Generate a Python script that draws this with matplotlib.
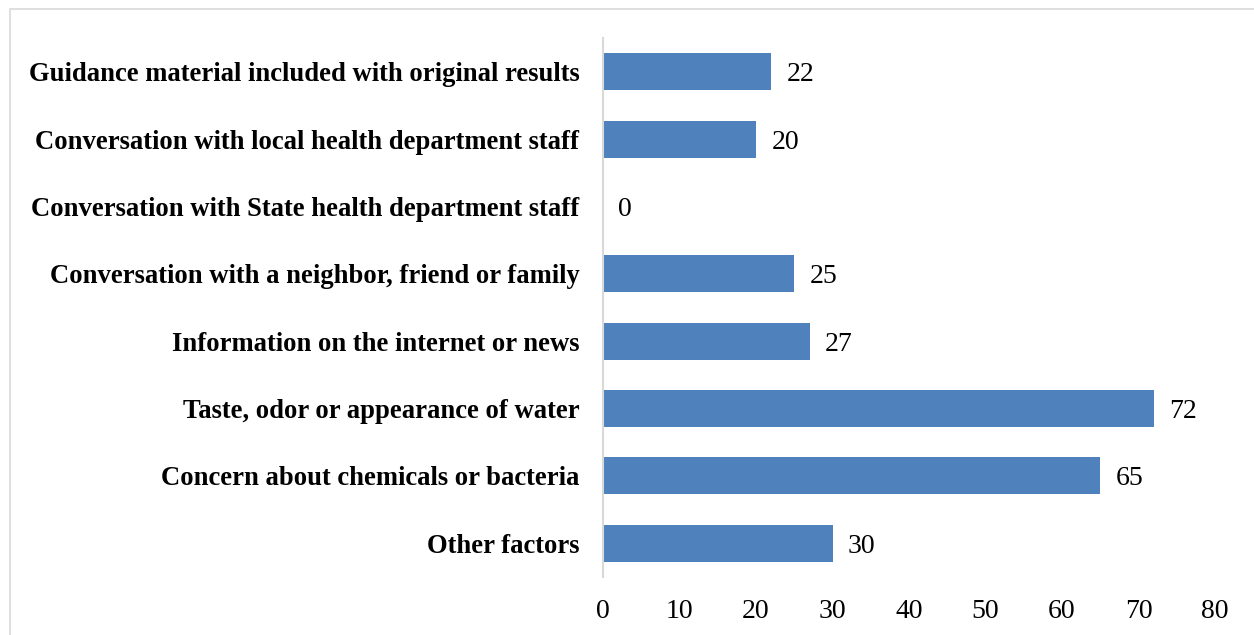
import matplotlib.pyplot as plt
from matplotlib.patches import Rectangle

categories = [
    "Guidance material included with original results",
    "Conversation with local health department staff",
    "Conversation with State health department staff",
    "Conversation with a neighbor, friend or family",
    "Information on the internet or news",
    "Taste, odor or appearance of water",
    "Concern about chemicals or bacteria",
    "Other factors",
]
counts = [22, 20, 0, 25, 27, 72, 65, 30]
x_ticks = [0, 10, 20, 30, 40, 50, 60, 70, 80]

BAR_COLOR = "#4F81BD"
GRID_GREY = "#D9D9D9"

plt.rcParams["font.family"] = ["Liberation Serif", "DejaVu Serif"]

fig = plt.figure(figsize=(12.54, 6.35), dpi=100)
# thin frame around the chart area
fig.patches.append(Rectangle((10 / 1254, -0.01), 1.02, 1 - 9 / 635 + 0.01,
                             transform=fig.transFigure, fill=False,
                             edgecolor=GRID_GREY, linewidth=1.2))

ax = fig.add_axes([603 / 1254, 1 - 577 / 635, (1215 - 603) / 1254, (577 - 38) / 635])

pos = list(range(len(categories)))[::-1]
ax.barh(pos, counts, height=0.55, color=BAR_COLOR)
for p, v in zip(pos, counts):
    ax.text(v + 2.0, p, str(v), va="center_baseline", ha="left", fontsize=20)

ax.set_xlim(0, 80)
ax.set_ylim(-0.5, len(categories) - 0.5)
ax.set_xticks(x_ticks)
ax.set_xticklabels([str(t) for t in x_ticks], fontsize=20)
ax.set_yticks(pos)
ax.set_yticklabels(categories, fontsize=19.2, fontweight="bold")
for lbl in ax.get_yticklabels():
    lbl.set_verticalalignment("center_baseline")
ax.tick_params(axis="x", length=0, pad=16)
ax.tick_params(axis="y", length=0, pad=17)

for side in ("top", "right", "bottom"):
    ax.spines[side].set_visible(False)
ax.spines["left"].set_color(GRID_GREY)
ax.spines["left"].set_linewidth(1.5)

fig.savefig("out.png", dpi=100)
